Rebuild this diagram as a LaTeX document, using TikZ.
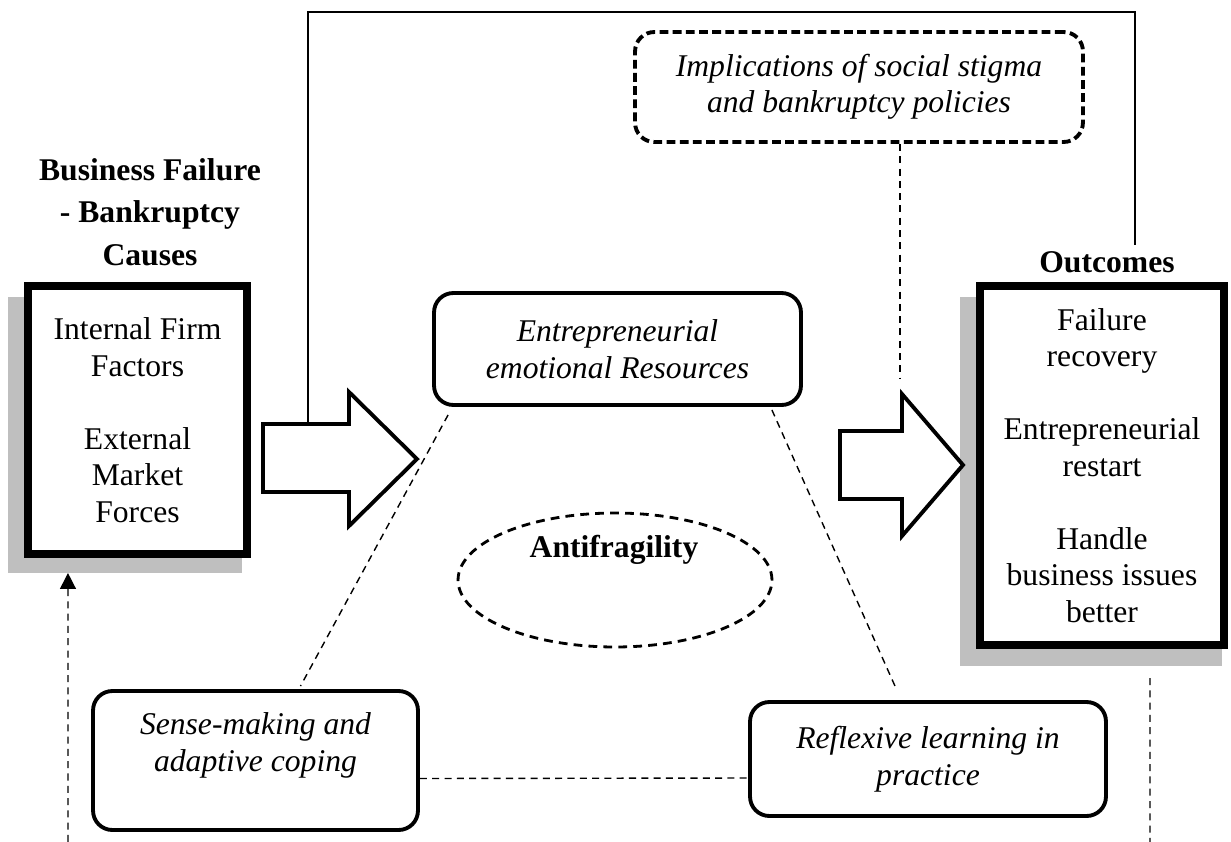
\documentclass[tikz,border=0pt]{standalone}
\usepackage{fontspec}
\setmainfont{Liberation Serif}
\usetikzlibrary{shapes.geometric, arrows.meta, positioning, calc, backgrounds}

\tikzstyle{causebox} = [rectangle, draw=black, line width=4.6pt, fill=white,
  align=center, font=\fontsize{18}{20.8}\selectfont]
\tikzstyle{softbox} = [rectangle, rounded corners=11pt, draw=black, line width=2.2pt,
  fill=white, align=center, font=\fontsize{18}{20.8}\selectfont\itshape]
\tikzstyle{boldhead} = [align=center, font=\fontsize{18}{24.2}\selectfont\bfseries]
\tikzstyle{greyshadow} = [fill=black!25]
\tikzstyle{blockarrow} = [draw=black, line width=2.2pt, fill=white, line join=miter]
\tikzstyle{thindash} = [line width=0.8pt, dash pattern=on 4pt off 3pt]
\tikzstyle{feedback} = [line width=1.3pt]

\begin{document}
\begin{tikzpicture}[x=0.02cm, y=-0.02cm]
  \useasboundingbox (0,0) rectangle (1231,842);

  % boxes
  \node[causebox, minimum width=4.38cm, minimum height=5.36cm] (cause) at (137.5,420)
    {Internal Firm\\Factors\\[20.8pt]External\\Market\\Forces};
  \node[causebox, minimum width=4.88cm, minimum height=7.18cm] (outcome) at (1102,465.5)
    {Failure\\recovery\\[20.8pt]Entrepreneurial\\restart\\[20.8pt]Handle\\business issues\\better};

  \node[boldhead] (causetitle) at (150,212) {Business Failure\\- Bankruptcy\\Causes};
  \node[boldhead, anchor=base] (outtitle) at (1107,272) {Outcomes};

  \node[softbox, dash pattern=on 5pt off 2.5pt, minimum width=8.96cm, minimum height=2.2cm]
    (stigma) at (859,87) {Implications of social stigma\\and bankruptcy policies};
  \node[softbox, minimum width=7.34cm, minimum height=2.24cm] (emo) at (617.5,349)
    {Entrepreneurial\\emotional Resources};
  \node[softbox, minimum width=6.5cm, minimum height=2.78cm] (sense) at (255.5,760.5)
    {Sense-making and\\adaptive coping\\ \mbox{}};
  \node[softbox, minimum width=7.12cm, minimum height=2.28cm] (reflex) at (928,759)
    {Reflexive learning in\\practice};

  \node[ellipse, draw, line width=1.6pt, dash pattern=on 5pt off 3.5pt,
    minimum width=6.28cm, minimum height=2.68cm] (anti) at (615,580) {};
  \node[font=\fontsize{18}{20.8}\selectfont\bfseries] (antitext) at (614,550) {Antifragility};

  % grey shadows
  \begin{scope}[on background layer]
    \fill[greyshadow] ($(cause.north west)+(-16,15)$) rectangle ($(cause.south east)+(-9,15)$);
    \fill[greyshadow] ($(outcome.north west)+(-16,15)$) rectangle ($(outcome.south east)+(-6,17)$);
  \end{scope}

  % block arrows
  \draw[blockarrow] (263,424) -- (349,424) -- (349,392) -- (417,459) -- (349,526)
    -- (349,492) -- (263,492) -- cycle;
  \draw[blockarrow] (840,431) -- (902,431) -- (902,394) -- (963,465) -- (902,536)
    -- (902,499) -- (840,499) -- cycle;

  % feedback line over the top
  \coordinate (fbstart) at (308,424);
  \draw[feedback] (fbstart) |- (1135,12) -- (1135,12 |- outtitle.north);

  % dashed links
  \draw[thindash] ($(emo.south west)+(16,8)$) -- ($(sense.north)+(45,-3)$);
  \draw[thindash] ($(emo.south east)+(-31,3)$) -- ($(reflex.north)+(-33,-14)$);
  \draw[thindash] ($(stigma.south)+(41,0)$) -- (900,378);
  \draw[thindash] ($(sense.east)+(0,18)$) -- ($(reflex.west)+(0,19)$);
  \draw[thindash] ($(outcome.south east)+(-78,29)$) -- (1150,842);
  \draw[thindash, -{Triangle[length=9pt, width=9pt]}] (68,842)
    -- ($(cause.south west)+(44,15)$);

\end{tikzpicture}
\end{document}
